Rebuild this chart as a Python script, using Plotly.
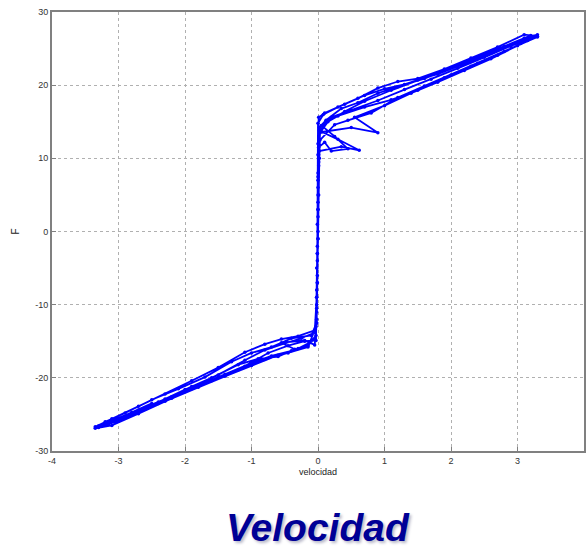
import plotly.graph_objects as go

# velocity (x) and friction force (y) samples
velocidad = [
    -3.3, -3.0, -2.6, -2.2, -1.8, -1.4, -1.0, -0.7, -0.4, -0.15, -0.03, -0.02, -0.01, 0.0, 0.0, 0.01, 0.02, 0.2, 0.5, 0.9, 1.3, 1.7, 2.1, 2.5, 2.9, 3.2, 3.3,
    3.1, 2.7, 2.3, 1.9, 1.5, 1.1, 0.7, 0.4, 0.15, 0.03, 0.02, 0.01, 0.0, -0.01, -0.02, -0.04, -0.3, -0.6, -1.0, -1.4, -1.8, -2.2, -2.6, -3.0, -3.25,
    -3.05, -2.7, -2.3, -1.9, -1.5, -1.1, -0.8, -0.5, -0.25, -0.05, -0.02, -0.01, 0.0, 0.0, 0.02, 0.35, 0.62, 0.3, 0.06, 0.5, 0.9, 0.55, 1.0, 1.4, 1.8, 2.2, 2.6, 3.0, 3.25,
    3.0, 2.6, 2.2, 1.8, 1.6, 1.3, 1.0, 0.7, 0.4, 0.1, 0.01, 0.0, 0.0, -0.01, -0.02, -0.02, -0.05, -0.3, -0.55, -0.8, -1.1, -1.5, -1.9, -2.3, -2.7, -3.1, -3.35,
    -3.2, -2.8, -2.4, -2.0, -1.6, -1.2, -0.9, -0.6, -0.35, -0.55, -0.2, -0.05, -0.02, -0.01, 0.0, 0.0, 0.01, 0.03, 0.25, 0.45, 0.8, 1.2, 1.6, 2.0, 2.4, 2.8, 3.15, 3.3,
    3.2, 2.8, 2.4, 2.0, 1.6, 1.2, 0.9, 0.6, 0.35, 0.12, 0.02, 0.01, 0.0, -0.01, -0.02, -0.03, -0.15, -0.45, -0.8, -1.2, -1.6, -2.0, -2.4, -2.8, -3.15, -3.35,
    -3.1, -2.7, -2.3, -1.9, -1.5, -1.1, -0.75, -0.45, -0.2, -0.03, -0.02, -0.01, 0.0, 0.0, 0.01, 0.1, 0.2, 0.45, 0.25, 0.05, 0.3, 0.7, 1.1, 1.5, 1.9, 2.3, 2.7, 3.05, 3.3,
    3.1, 2.7, 2.3, 1.9, 1.5, 1.2, 0.9, 0.6, 0.3, 0.08, 0.0, 0.0, 0.0, -0.01, -0.02, -0.02, -0.1, -0.4, -0.7, -1.0, -1.3, -1.7, -2.1, -2.5, -2.9, -3.2, -3.3,
    -3.1, -2.8, -2.5,
]
fuerza = [
    -26.8, -25.7, -24.1, -22.6, -21.0, -19.5, -18.0, -17.0, -16.3, -15.6, -14.2, -11.0, -6.0, 0.0, 6.0, 10.5, 13.8, 15.6, 16.6, 17.9, 19.4, 20.8, 22.3, 23.8, 25.3, 26.5, 26.9,
    26.4, 25.0, 23.5, 22.0, 20.7, 19.3, 17.8, 16.4, 15.0, 13.5, 10.0, 5.0, -1.0, -7.0, -12.0, -14.8, -16.0, -16.9, -18.3, -19.8, -21.3, -22.8, -24.3, -25.9, -26.6,
    -26.0, -24.4, -22.9, -21.2, -19.6, -17.6, -16.2, -15.3, -14.6, -13.8, -9.0, -3.0, 3.0, 8.0, 11.0, 11.6, 11.1, 12.6, 13.6, 14.2, 13.5, 15.6, 17.2, 18.9, 20.4, 22.0, 23.6, 25.4, 26.6,
    25.8, 24.4, 22.9, 21.5, 21.0, 20.1, 19.5, 18.6, 17.4, 16.2, 15.6, 12.0, 7.0, 1.0, -5.0, -10.0, -13.5, -14.3, -14.7, -15.4, -16.5, -18.6, -20.4, -22.2, -23.9, -25.6, -26.7,
    -26.2, -24.8, -23.3, -21.6, -20.0, -18.2, -17.4, -17.1, -16.1, -15.2, -14.9, -15.5, -12.5, -7.0, -1.0, 5.0, 9.0, 12.5, 14.6, 15.2, 16.2, 18.3, 19.9, 21.4, 23.0, 24.6, 26.1, 26.6,
    26.8, 25.3, 23.8, 22.4, 20.9, 19.8, 18.9, 17.6, 16.8, 15.2, 14.2, 9.5, 3.0, -3.0, -9.0, -13.0, -15.8, -16.6, -17.5, -18.9, -20.4, -21.9, -23.5, -25.0, -26.3, -26.9,
    -26.5, -24.9, -23.2, -21.5, -19.9, -18.4, -16.6, -15.6, -15.0, -14.9, -10.5, -4.0, 2.0, 7.5, 11.5, 12.2, 11.0, 11.3, 13.0, 14.5, 15.8, 17.0, 18.0, 19.3, 21.0, 22.6, 24.1, 25.7, 26.7,
    26.9, 25.2, 23.7, 22.2, 20.9, 20.5, 19.6, 18.2, 17.0, 16.0, 14.8, 10.5, 4.0, -2.0, -8.0, -12.5, -14.2, -14.6, -15.8, -16.6, -17.8, -19.9, -21.5, -23.0, -24.8, -26.0, -26.6,
    -25.9, -24.7, -23.5,
]

x_ticks = [-4, -3, -2, -1, 0, 1, 2, 3, 4]
y_ticks = [-30, -20, -10, 0, 10, 20, 30]
x_title = "velocidad"
y_title = "F"
chart_title = "Velocidad"

fig = go.Figure()
fig.add_trace(go.Scatter(
    x=velocidad, y=fuerza, mode="lines+markers",
    line=dict(color="#0000ff", width=1.8),
    marker=dict(color="#0000ff", size=3.5),
    showlegend=False,
))

axis_common = dict(
    showline=True, mirror=True, linecolor="#808080", linewidth=2,
    showgrid=True, gridcolor="#b0b0b0", griddash="dot", gridwidth=1,
    zeroline=False, ticks="inside", ticklen=4, tickcolor="#808080",
    tickfont=dict(family="Liberation Sans", size=9, color="#333333"),
    automargin=False,
)

fig.update_xaxes(range=[-4, 4], tickvals=x_ticks, ticktext=[str(v) for v in x_ticks],
                 title=dict(text=x_title, font=dict(family="Liberation Sans", size=9, color="#222222"), standoff=4),
                 **axis_common)
fig.update_yaxes(range=[-30, 30], tickvals=y_ticks, ticktext=[str(v) for v in y_ticks],
                 title=dict(text=y_title, font=dict(family="Liberation Sans", size=10, color="#222222"), standoff=14),
                 **axis_common)

fig.add_annotation(text=chart_title, xref="paper", yref="paper", x=0.5, y=-0.175,
                   showarrow=False, yanchor="middle",
                   font=dict(family="Liberation Sans", size=39, color="#000096", weight="bold", style="italic",
                             shadow="2px 2px 3px #b8b8c8"))

fig.update_layout(
    width=586, height=548,
    margin=dict(l=52, r=2, t=12, b=97),
    paper_bgcolor="white", plot_bgcolor="white",
)

fig.write_html("out.html", config={"displayModeBar": False},
               post_script="document.body.style.margin='0';document.body.style.overflow='hidden';")
